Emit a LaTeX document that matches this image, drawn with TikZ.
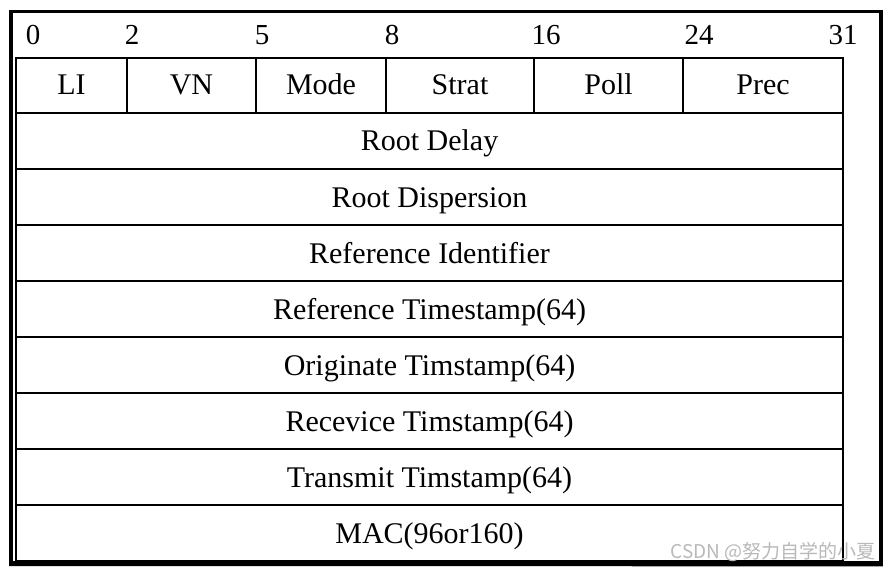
\documentclass[tikz,border=0pt]{standalone}
\usepackage{fontspec}
\setmainfont{Liberation Serif}
\newfontfamily\cjkfont{Noto Sans CJK SC}
\begin{document}
\begin{tikzpicture}[x=1pt,y=-1pt,
  cell/.style={draw=black, line width=2pt, inner sep=0pt},
  txt/.style={inner sep=0pt, anchor=base, font=\fontsize{30}{35}\selectfont},
  bitlbl/.style={inner sep=0pt, anchor=base, font=\fontsize{29}{34}\selectfont},
  outer/.style={draw=black, line width=3.6pt},
  wm/.style={inner sep=0pt, text=gray!55, font=\fontsize{19}{22}\selectfont\cjkfont}]
\useasboundingbox (0,0) rectangle (890,572);
\fill[white] (0,0) rectangle (890,572);
% outer frame
\node[outer, minimum width=870pt, minimum height=551pt, inner sep=0pt] (frame) at (446,287) {};
% bit labels
\node[bitlbl] (b0) at (33,45) {0};
\node[bitlbl] (b2) at (132,45) {2};
\node[bitlbl] (b5) at (262,45) {5};
\node[bitlbl] (b8) at (392,45) {8};
\node[bitlbl] (b16) at (546,45) {16};
\node[bitlbl] (b24) at (699,45) {24};
\node[bitlbl] (b31) at (843,45) {31};
% first row
\foreach \l/\r/\t/\n in {16/127/LI/li, 127/256/VN/vn, 256/386/Mode/mode, 386/534/Strat/strat, 534/683/Poll/poll, 683/843/Prec/prec}{
  \node[cell, minimum width=\r pt-\l pt, minimum height=55pt] (\n) at ({(\l+\r)/2},85.5) {};
  \node[txt] (\n-t) at ({(\l+\r)/2},95) {\t};
}
% full-width rows
\foreach \top/\bot/\t/\n in {
  113/169/Root Delay/rd,
  169/225/Root Dispersion/rdisp,
  225/281/Reference Identifier/refid,
  281/337/Reference Timestamp(64)/refts,
  337/393/Originate Timstamp(64)/orig,
  393/449/Recevice Timstamp(64)/recv,
  449/505/Transmit Timstamp(64)/trans,
  505/561/MAC(96or160)/mac}{
  \node[cell, minimum width=827pt, minimum height=\bot pt-\top pt] (\n) at (429.5,{(\top+\bot)/2}) {};
  \node[txt] (\n-t) at (429.5,{\top+38}) {\t};
}
\draw[line width=4pt] (frame.south west) ++(0,-0.2) -- (frame.south east);
\node[wm, anchor=east] (wmark) at (876,552) {CSDN @努力自学的小夏};
\end{tikzpicture}
\end{document}
